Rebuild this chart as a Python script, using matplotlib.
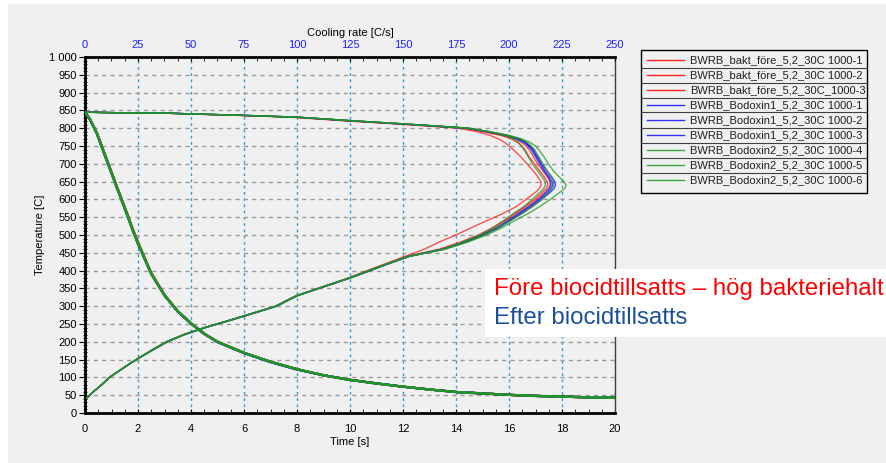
import numpy as np
import matplotlib.pyplot as plt
from matplotlib.patches import Rectangle
from matplotlib.lines import Line2D
from matplotlib.ticker import MultipleLocator, FuncFormatter

plt.rcParams['font.family'] = ['Liberation Sans', 'DejaVu Sans']

# Series names and colours
names = ['BWRB_bakt_före_5,2_30C 1000-1', 'BWRB_bakt_före_5,2_30C 1000-2',
         'BWRB_bakt_före_5,2_30C_1000-3', 'BWRB_Bodoxin1_5,2_30C 1000-1',
         'BWRB_Bodoxin1_5,2_30C 1000-2', 'BWRB_Bodoxin1_5,2_30C 1000-3',
         'BWRB_Bodoxin2_5,2_30C 1000-4', 'BWRB_Bodoxin2_5,2_30C 1000-5',
         'BWRB_Bodoxin2_5,2_30C 1000-6']
colors = ['#ff1a1a'] * 3 + ['#1a1aff'] * 3 + ['#1f9a1f'] * 3
legend_colors = ['#ff2020'] * 3 + ['#3030ff'] * 3 + ['#3aa53a'] * 3

# Temperature [C] against time [s]
time_s = [0, 0.2, 0.45, 0.8, 1.2, 1.6, 1.8, 2.0, 2.5, 3.0, 3.5, 4.0, 4.5, 5.0, 6.0,
          7.0, 8.0, 9.0, 10, 11, 12, 13, 14, 15, 16, 17, 18, 19, 20]
temp_t = [
    [845, 824, 787, 718, 638, 560, 519, 481, 394, 332, 287, 252, 223, 200, 169, 144, 123, 106, 93, 83, 74, 66, 59, 55, 51, 48, 46, 44, 43],
    [845, 823, 786, 716, 636, 557, 516, 478, 393, 331, 286, 252, 223, 200, 169, 144, 123, 106, 93, 83, 74, 66, 59, 55, 51, 48, 46, 44, 43],
    [845, 823, 785, 715, 635, 556, 515, 477, 392, 331, 286, 251, 222, 200, 169, 144, 123, 106, 93, 83, 74, 66, 59, 55, 51, 48, 46, 44, 43],
    [845, 823, 785, 714, 634, 555, 514, 476, 391, 330, 285, 251, 222, 199, 168, 143, 122, 106, 93, 83, 74, 66, 59, 55, 51, 48, 46, 44, 43],
    [845, 822, 784, 713, 633, 554, 513, 475, 390, 330, 285, 251, 222, 199, 168, 143, 122, 106, 93, 83, 74, 66, 59, 55, 51, 48, 46, 44, 43],
    [845, 823, 785, 714, 634, 555, 514, 476, 391, 331, 285, 252, 223, 200, 169, 144, 123, 106, 93, 83, 74, 66, 59, 55, 51, 48, 46, 44, 43],
    [845, 823, 786, 716, 636, 557, 516, 478, 393, 332, 286, 252, 223, 200, 169, 144, 123, 106, 93, 83, 74, 66, 59, 55, 51, 48, 46, 44, 43],
    [845, 823, 785, 714, 634, 555, 514, 476, 391, 331, 286, 252, 223, 200, 169, 144, 123, 106, 93, 83, 74, 66, 59, 55, 51, 48, 46, 44, 43],
    [845, 822, 784, 712, 632, 553, 512, 474, 390, 330, 285, 251, 222, 200, 169, 144, 123, 106, 93, 83, 74, 66, 59, 55, 51, 48, 46, 44, 43],
]

# Cooling rate [C/s] against temperature [C]
rate_T = [845, 843, 842, 840, 836, 831, 821, 812,
          800, 790, 780, 770, 760, 750, 740, 720, 700, 680, 660, 650, 640, 630,
          620, 600, 580, 560, 540, 520, 500, 480, 460, 440,
          420, 400, 380, 360, 340, 330, 320, 300, 280, 260, 240, 220, 200, 180,
          160, 140, 120, 100, 80, 60, 42]
rate = [
    [0, 18, 38, 49, 72, 97, 122, 147,
     176, 185, 191, 195, 198, 200, 202, 205.5, 208.5, 211.5, 214, 215, 215.2, 214.2,
     212.5, 208, 203.5, 197, 189.5, 182, 175, 167, 160, 151,
     142, 133, 124.5, 115, 105, 100.5, 97, 90, 79, 68, 56.5, 46.5, 38.5, 32.5,
     27, 21.5, 16.5, 11.5, 8, 4, 0.8],
    [0, 19, 39, 50, 73, 98, 123, 148,
     179, 188, 196, 201, 204, 206, 207.5, 209.5, 212, 214.5, 217, 218, 218.3, 217.5,
     215.8, 212, 207.5, 202.5, 197.5, 192, 185.5, 177, 167, 152,
     143, 134, 125, 115, 105, 100, 96.5, 90, 79.5, 68, 56.5, 46.5, 38.5, 32.5,
     27, 21.5, 16.5, 11.5, 8, 4, 0.8],
    [0, 19, 39, 50, 73, 99, 124, 149,
     180, 189, 197, 203, 206, 208, 209.5, 211.5, 213.5, 216, 218.5, 219.3, 219.5, 218.6,
     217, 213, 208.5, 203.5, 198.5, 193, 186.5, 178, 168, 152.5,
     143, 134, 125, 115, 105, 100, 96.5, 90, 79, 68, 56.5, 46.5, 38.5, 32.5,
     27, 21.5, 16.5, 11.5, 8, 4, 0.8],
    [0, 20, 40, 52, 75, 100, 125, 150,
     180, 190, 199, 204, 207, 209, 210.5, 212.5, 214.5, 216.5, 218.8, 219.6, 219.8, 219,
     217.5, 214, 209.5, 204.5, 199.5, 194.5, 187.5, 179, 169, 153,
     143.5, 134.5, 125.5, 115.5, 105, 100, 96.5, 90, 79, 68, 56.5, 46.5, 38.5, 32.5,
     27, 21.5, 16.5, 11.5, 8, 4, 0.8],
    [0, 20, 40, 52, 75, 100, 125, 150,
     181, 190, 199, 205, 208, 210, 211.5, 213.5, 215.5, 218, 220.6, 221.6, 222, 221.2,
     219.5, 215.5, 211, 206, 200.5, 195, 188, 179.5, 169, 153,
     143.5, 134.5, 125.5, 115.5, 105.5, 100.5, 97, 90.5, 79.5, 68.5, 57, 47, 39, 33,
     27, 21.5, 16.5, 11.5, 8, 4, 0.8],
    [0, 20, 40, 51, 75, 100, 125, 150,
     180, 190, 198, 204, 207.5, 209.5, 211, 213, 215, 217, 219.5, 220.3, 220.6, 219.8,
     218.5, 214.5, 210, 205, 200, 194.5, 187.5, 179, 168.5, 152.5,
     143, 134, 125, 115, 105, 100, 96.5, 90, 79, 68, 56.5, 46.5, 38.5, 32.5,
     27, 21.5, 16.5, 11.5, 8, 4, 0.8],
    [0, 20, 40, 51, 75, 100, 126, 151,
     181, 191, 198, 202, 204.5, 206, 207, 209, 211, 213.5, 216, 217, 217.2, 216.3,
     214.5, 211, 207, 202, 197.5, 192.5, 186, 178, 168.5, 152.5,
     143, 134, 125, 115, 105, 100, 96.5, 90, 79, 68, 56.5, 46.5, 38.5, 32.5,
     27, 21.5, 16.5, 11.5, 8, 4, 0.8],
    [0, 20, 40, 51, 75, 100, 126, 151,
     181, 191, 199, 205, 208.5, 210.5, 212, 214, 216, 218, 220.3, 221, 221.2, 220.4,
     219, 215.5, 211, 206, 200.5, 195, 188, 179.5, 169, 153,
     143, 134, 125, 115, 105, 100, 96.5, 90, 79, 68, 56.5, 46.5, 38.5, 32.5,
     27, 21.5, 16.5, 11.5, 8, 4, 0.8],
    [0, 20, 40, 51, 75, 100, 126, 151,
     181, 191, 200, 206, 210, 212.5, 214, 216.5, 218.5, 221, 224.2, 226, 227, 226.2,
     224, 219.5, 214.5, 209, 202.5, 196.5, 189.5, 180.5, 170, 153,
     143.5, 134.5, 125.5, 115.5, 105.5, 100.5, 97, 90.5, 79.5, 68.5, 57, 47, 39, 33,
     27, 21.5, 16.5, 11.5, 8, 4, 0.8],
]

W, H = 886, 463
fig = plt.figure(figsize=(W / 100, H / 100), dpi=100)
fig.patch.set_facecolor('white')
bg = '#f0f0f0'
fig.add_artist(Rectangle((8 / W, 0), 1 - 8 / W, 1 - 4 / H, transform=fig.transFigure,
                         facecolor=bg, edgecolor='none', zorder=0))

def fx(x):
    return x / W

def fy(y):
    return 1 - y / H

ax = fig.add_axes([fx(85), fy(413), fx(615) - fx(85), fy(57) - fy(413)])
ax.set_facecolor(bg)
ax2 = ax.twiny()

for i in range(len(names)):
    ax.plot(time_s, temp_t[i], color=colors[i], lw=1.6, alpha=0.8, zorder=3)
    ax2.plot(rate[i], rate_T, color=colors[i], lw=1.0, alpha=0.75, zorder=3)

ax.set_xlim(0, 20)
ax.set_ylim(0, 1000)
ax2.set_xlim(0, 250)

ax.xaxis.set_major_locator(MultipleLocator(2))
ax.xaxis.set_minor_locator(MultipleLocator(0.5))
ax.yaxis.set_major_locator(MultipleLocator(50))
ax.yaxis.set_minor_locator(MultipleLocator(10))
ax2.xaxis.set_major_locator(MultipleLocator(25))
ax2.xaxis.set_minor_locator(MultipleLocator(6.25))
ax.yaxis.set_major_formatter(FuncFormatter(lambda v, p: f'{v:,.0f}'.replace(',', ' ')))

ax.grid(axis='x', color='#3a9ad0', ls=(0, (2, 2.5)), lw=1.0)
ax.grid(axis='y', color='#9a9a9a', ls=(0, (3, 3)), lw=1.0)
ax.set_axisbelow(True)

ax.tick_params(axis='x', which='both', direction='in', length=3, labelsize=8, pad=8)
ax.tick_params(axis='y', which='major', direction='out', length=4, labelsize=8, pad=2)
ax.tick_params(axis='y', which='minor', direction='inout', length=3)
ax2.tick_params(axis='x', which='both', direction='in', length=3, labelsize=8, pad=5,
                labelcolor='#2020ff')

for s in ['left', 'bottom', 'top']:
    ax.spines[s].set_linewidth(2)
ax.spines['right'].set_linewidth(1)
ax.spines['right'].set_color('#404040')
for s in ax2.spines.values():
    s.set_visible(False)

ax.set_xlabel('Time [s]', fontsize=8, labelpad=2)
ax.set_ylabel('Temperature [C]', fontsize=8, labelpad=3)
ax2.set_xlabel('Cooling rate [C/s]', fontsize=8, labelpad=3)

# Legend table
lx0, lx1, ly0, ly1 = 641, 867, 50, 193
fig.add_artist(Rectangle((fx(lx0), fy(ly1)), fx(lx1) - fx(lx0), fy(ly0) - fy(ly1),
                         transform=fig.transFigure, facecolor=bg, edgecolor='black',
                         lw=1, zorder=2))
for k in range(len(names)):
    yc = 60 + 15 * k
    fig.add_artist(Line2D([fx(647), fx(684)], [fy(yc), fy(yc)], color=legend_colors[k],
                          lw=1.0, transform=fig.transFigure, zorder=3))
    fig.text(fx(690), fy(yc), names[k], fontsize=8, color='#202020', va='center', ha='left')
    if k < len(names) - 1:
        fig.add_artist(Line2D([fx(lx0), fx(lx1)], [fy(yc + 7.5), fy(yc + 7.5)],
                              color='#404040', lw=0.8, transform=fig.transFigure, zorder=3))

# Annotation box
fig.add_artist(Rectangle((fx(485), fy(337)), 1 - fx(485), fy(269) - fy(337),
                         transform=fig.transFigure, facecolor='white', edgecolor='none',
                         zorder=4))
fig.text(fx(494), fy(289), 'Före biocidtillsatts – hög bakteriehalt', fontsize=17.3,
         color='#ff0000', va='center', ha='left', zorder=5)
fig.text(fx(494), fy(318), 'Efter biocidtillsatts', fontsize=17.3,
         color='#1a4f9c', va='center', ha='left', zorder=5)

fig.savefig('out.png', dpi=100, facecolor=fig.get_facecolor())
